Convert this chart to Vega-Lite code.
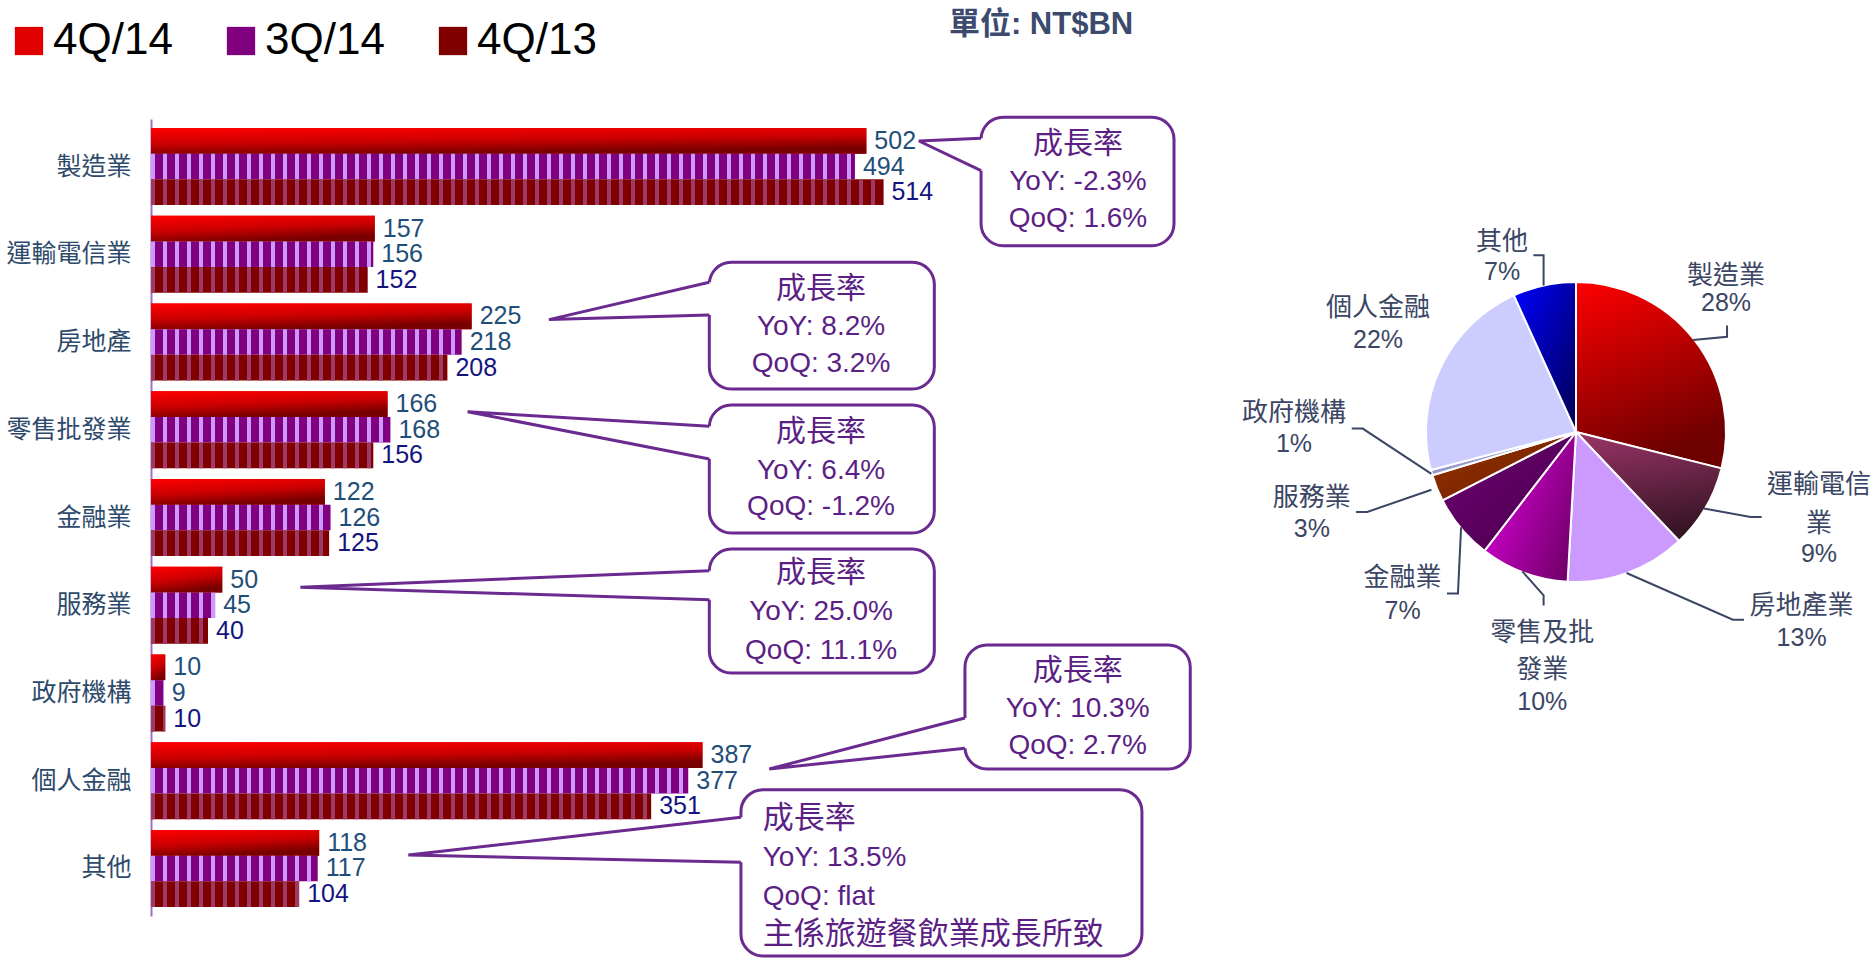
{
"$schema": "https://vega.github.io/schema/vega-lite/v6.json",
"padding": {"left": 5, "top": 9, "right": 0, "bottom": 0},
"background": "white",
"bounds": "flush",
"spacing": 270,
"config": {"view": {"stroke": null}, "font": "Liberation Sans"},
"datasets": {
"bars": [
{"cat":"製造業","series":"4Q/14","value":502},{"cat":"製造業","series":"3Q/14","value":494},{"cat":"製造業","series":"4Q/13","value":514},
{"cat":"運輸電信業","series":"4Q/14","value":157},{"cat":"運輸電信業","series":"3Q/14","value":156},{"cat":"運輸電信業","series":"4Q/13","value":152},
{"cat":"房地產","series":"4Q/14","value":225},{"cat":"房地產","series":"3Q/14","value":218},{"cat":"房地產","series":"4Q/13","value":208},
{"cat":"零售批發業","series":"4Q/14","value":166},{"cat":"零售批發業","series":"3Q/14","value":168},{"cat":"零售批發業","series":"4Q/13","value":156},
{"cat":"金融業","series":"4Q/14","value":122},{"cat":"金融業","series":"3Q/14","value":126},{"cat":"金融業","series":"4Q/13","value":125},
{"cat":"服務業","series":"4Q/14","value":50},{"cat":"服務業","series":"3Q/14","value":45},{"cat":"服務業","series":"4Q/13","value":40},
{"cat":"政府機構","series":"4Q/14","value":10},{"cat":"政府機構","series":"3Q/14","value":9},{"cat":"政府機構","series":"4Q/13","value":10},
{"cat":"個人金融","series":"4Q/14","value":387},{"cat":"個人金融","series":"3Q/14","value":377},{"cat":"個人金融","series":"4Q/13","value":351},
{"cat":"其他","series":"4Q/14","value":118},{"cat":"其他","series":"3Q/14","value":117},{"cat":"其他","series":"4Q/13","value":104}
],
"boxes": [
{"id":1,"x1":582.5,"x2":717.9,"y1":-0.561,"y2":0.902},
{"id":2,"x1":391.8,"x2":549.7,"y1":1.0914,"y2":2.5354},
{"id":3,"x1":391.8,"x2":549.7,"y1":2.7178,"y2":4.1766},
{"id":4,"x1":391.8,"x2":549.7,"y1":4.359,"y2":5.7723},
{"id":5,"x1":571.2,"x2":729.3,"y1":5.4532,"y2":6.8664},
{"id":6,"x1":414.0,"x2":695.4,"y1":7.1022,"y2":8.9977}
],
"gaps": [
{"id":1,"x":582.5,"y1":-0.3219,"y2":0.0474},
{"id":2,"x":391.8,"y1":1.3194,"y2":1.692},
{"id":3,"x":391.8,"y1":2.9606,"y2":3.3333},
{"id":4,"x":391.8,"y1":4.6063,"y2":4.9368},
{"id":5,"x":571.2,"y1":6.2852,"y2":6.6305},
{"id":6,"x":414.0,"y1":7.4169,"y2":7.9298}
],
"pointers": [
{"id":1,"s":0,"x":582.5,"y":-0.3219},{"id":1,"s":1,"x":538.9,"y":-0.2912},{"id":1,"s":2,"x":582.5,"y":0.0474},
{"id":2,"s":0,"x":391.8,"y":1.3194},{"id":2,"s":1,"x":279.3,"y":1.7446},{"id":2,"s":2,"x":391.8,"y":1.692},
{"id":3,"s":0,"x":391.8,"y":2.9606},{"id":3,"s":1,"x":222.2,"y":2.7942},{"id":3,"s":2,"x":391.8,"y":3.3333},
{"id":4,"s":0,"x":391.8,"y":4.6063},{"id":4,"s":1,"x":104.8,"y":4.7955},{"id":4,"s":2,"x":391.8,"y":4.9368},
{"id":5,"s":0,"x":571.2,"y":6.2852},{"id":5,"s":1,"x":433.9,"y":6.8664},{"id":5,"s":2,"x":571.2,"y":6.6305},
{"id":6,"s":0,"x":414.0,"y":7.4169},{"id":6,"s":1,"x":180.6,"y":7.8466},{"id":6,"s":2,"x":414.0,"y":7.9298}
],
"ctext": [
{"id":1,"x":650.5,"y":-0.2569,"t":"成長率"},{"id":1,"x":650.5,"y":0.1802,"t":"YoY: -2.3%"},{"id":1,"x":650.5,"y":0.5979,"t":"QoQ: 1.6%"},
{"id":2,"x":470.2,"y":1.3957,"t":"成長率"},{"id":2,"x":470.2,"y":1.833,"t":"YoY: 8.2%"},{"id":2,"x":470.2,"y":2.2505,"t":"QoQ: 3.2%"},
{"id":3,"x":470.2,"y":3.029,"t":"成長率"},{"id":3,"x":470.2,"y":3.4666,"t":"YoY: 6.4%"},{"id":3,"x":470.2,"y":3.8837,"t":"QoQ: -1.2%"},
{"id":4,"x":470.2,"y":4.6359,"t":"成長率"},{"id":4,"x":470.2,"y":5.0805,"t":"YoY: 25.0%"},{"id":4,"x":470.2,"y":5.5181,"t":"QoQ: 11.1%"},
{"id":5,"x":650.3,"y":5.7461,"t":"成長率"},{"id":5,"x":650.3,"y":6.1826,"t":"YoY: 10.3%"},{"id":5,"x":650.3,"y":6.6009,"t":"QoQ: 2.7%"},
{"id":6,"x":429.3,"y":7.4363,"t":"成長率"},{"id":6,"x":429.3,"y":7.8842,"t":"YoY: 13.5%"},{"id":6,"x":429.3,"y":8.3287,"t":"QoQ: flat"},{"id":6,"x":429.3,"y":8.7583,"t":"主係旅遊餐飲業成長所致"}
],
"unit": [{"x":624.6,"y":-1.613,"t":"單位: NT$BN"}],
"pie": [
{"cat":"製造業","value":502,"o":1},{"cat":"運輸電信業","value":157,"o":2},{"cat":"房地產業","value":225,"o":3},
{"cat":"零售及批發業","value":166,"o":4},{"cat":"金融業","value":122,"o":5},{"cat":"服務業","value":50,"o":6},
{"cat":"政府機構","value":10,"o":7},{"cat":"個人金融","value":387,"o":8},{"cat":"其他","value":118,"o":9}
],
"lead": [
{"id":"其他","s":0,"px":-0.216,"py":0.976},{"id":"其他","s":1,"px":-0.216,"py":1.179},{"id":"其他","s":2,"px":-0.284,"py":1.179},
{"id":"製造業","s":0,"px":0.78,"py":0.613},{"id":"製造業","s":1,"px":1.007,"py":0.635},{"id":"製造業","s":2,"px":1.007,"py":0.71},
{"id":"運輸","s":0,"px":0.853,"py":-0.51},{"id":"運輸","s":1,"px":1.164,"py":-0.567},{"id":"運輸","s":2,"px":1.238,"py":-0.567},
{"id":"房地產","s":0,"px":0.337,"py":-0.94},{"id":"房地產","s":1,"px":1.046,"py":-1.251},{"id":"房地產","s":2,"px":1.12,"py":-1.251},
{"id":"零售","s":0,"px":-0.358,"py":-0.929},{"id":"零售","s":1,"px":-0.216,"py":-1.089},{"id":"零售","s":2,"px":-0.216,"py":-1.157},
{"id":"金融","s":0,"px":-0.766,"py":-0.635},{"id":"金融","s":1,"px":-0.787,"py":-1.077},{"id":"金融","s":2,"px":-0.86,"py":-1.077},
{"id":"服務","s":0,"px":-0.964,"py":-0.385},{"id":"服務","s":1,"px":-1.392,"py":-0.533},{"id":"服務","s":2,"px":-1.466,"py":-0.533},
{"id":"政府","s":0,"px":-0.964,"py":-0.279},{"id":"政府","s":1,"px":-1.422,"py":0.023},{"id":"政府","s":2,"px":-1.495,"py":0.023}
],
"plab": [
{"px":-0.493,"py":1.27,"t":"其他"},{"px":-0.493,"py":1.067,"t":"7%"},
{"px":1.0,"py":1.043,"t":"製造業"},{"px":1.0,"py":0.862,"t":"28%"},
{"px":1.62,"py":-0.351,"t":"運輸電信"},{"px":1.62,"py":-0.612,"t":"業"},{"px":1.62,"py":-0.816,"t":"9%"},
{"px":1.504,"py":-1.157,"t":"房地產業"},{"px":1.504,"py":-1.372,"t":"13%"},
{"px":-0.225,"py":-1.338,"t":"零售及批"},{"px":-0.225,"py":-1.587,"t":"發業"},{"px":-0.225,"py":-1.803,"t":"10%"},
{"px":-1.156,"py":-0.975,"t":"金融業"},{"px":-1.156,"py":-1.191,"t":"7%"},
{"px":-1.761,"py":-0.442,"t":"服務業"},{"px":-1.761,"py":-0.647,"t":"3%"},
{"px":-1.88,"py":0.125,"t":"政府機構"},{"px":-1.88,"py":-0.079,"t":"1%"},
{"px":-1.32,"py":0.828,"t":"個人金融"},{"px":-1.32,"py":0.613,"t":"22%"}
]
},
"hconcat": [
{
"width": 855, "height": 797,
"layer": [
{
"data": {"name": "bars"},
"encoding": {
"y": {"field": "cat", "type": "nominal",
"scale": {"domain": ["製造業","運輸電信業","房地產","零售批發業","金融業","服務業","政府機構","個人金融","其他"], "paddingInner": 0.1225, "paddingOuter": 0.103},
"axis": {"title": null, "ticks": false, "domainColor": "#A070C8", "domainWidth": 2, "labelFontSize": 25, "labelFont": "Noto Sans CJK TC", "labelColor": "#2E4A6B", "labelPadding": 20}},
"yOffset": {"field": "series", "type": "nominal", "scale": {"domain": ["4Q/14","3Q/14","4Q/13"], "paddingInner": 0, "paddingOuter": 0}},
"x": {"field": "value", "type": "quantitative", "scale": {"domain": [0, 600], "nice": false}, "axis": null}
},
"layer": [
{"mark": {"type": "bar"},
"encoding": {"color": {"field": "series", "type": "nominal",
"scale": {"domain": ["4Q/14","3Q/14","4Q/13"], "range": ["#E00000","#800080","#800000"]},
"legend": {"orient": "none", "legendX": -144, "legendY": -100, "direction": "horizontal", "title": null, "symbolType": "square", "symbolSize": 800, "symbolStrokeWidth": 0, "labelFontSize": 44, "labelFont": "Liberation Sans", "labelColor": "black", "labelOffset": 2, "columnPadding": 46, "padding": 0}}}},
{"transform": [{"filter": "datum.series === '4Q/14'"}],
"mark": {"type": "bar", "color": {"gradient": "linear", "x1": 0, "y1": 0, "x2": 0.35, "y2": 1, "stops": [{"offset": 0, "color": "#FF0000"}, {"offset": 0.55, "color": "#CC0000"}, {"offset": 1, "color": "#780000"}]}}},
{"transform": [{"filter": "datum.series === '3Q/14'"}],
"mark": {"type": "rule", "strokeWidth": 25.6, "strokeDash": [4, 8], "color": "#CC99FF"},
"encoding": {"x": {"datum": 0}, "x2": {"field": "value"}}},
{"transform": [{"filter": "datum.series === '4Q/13'"}],
"mark": {"type": "rule", "strokeWidth": 25.6, "strokeDash": [4, 8], "color": "#9E3A66"},
"encoding": {"x": {"datum": 0}, "x2": {"field": "value"}}},
{"mark": {"type": "text", "align": "left", "baseline": "middle", "dx": 8, "fontSize": 25, "font": "Liberation Sans"},
"encoding": {"text": {"field": "value", "type": "quantitative"},
"color": {"condition": {"test": "datum.series === '4Q/13'", "value": "#141480"}, "value": "#1F4E79"}}}
]
},
{
"layer": [
{"data": {"name": "boxes"},
"mark": {"type": "rect", "fill": "white", "stroke": "#6A2A90", "strokeWidth": 3, "cornerRadius": 22},
"encoding": {
"x": {"field": "x1", "type": "quantitative", "scale": {"domain": [0, 600], "nice": false}, "axis": null},
"x2": {"field": "x2"},
"y": {"field": "y1", "type": "quantitative", "scale": {"domain": [-0.5418, 8.5418], "nice": false, "zero": false, "reverse": true}, "axis": null},
"y2": {"field": "y2"}}},
{"data": {"name": "gaps"},
"mark": {"type": "rule", "color": "white", "strokeWidth": 7},
"encoding": {"x": {"field": "x", "type": "quantitative"}, "y": {"field": "y1", "type": "quantitative"}, "y2": {"field": "y2"}}},
{"data": {"name": "pointers"},
"mark": {"type": "line", "color": "#6A2A90", "strokeWidth": 3, "strokeJoin": "miter"},
"encoding": {"x": {"field": "x", "type": "quantitative"}, "y": {"field": "y", "type": "quantitative"}, "detail": {"field": "id"}, "order": {"field": "s"}}},
{"data": {"name": "ctext"},
"transform": [{"filter": "datum.id !== 6"}],
"mark": {"type": "text", "align": "center", "baseline": "middle", "font": "'Liberation Sans', 'Noto Sans CJK TC', sans-serif", "color": "#5C1F85"},
"encoding": {"x": {"field": "x", "type": "quantitative"}, "y": {"field": "y", "type": "quantitative"}, "text": {"field": "t"},
"size": {"condition": {"test": "indexof(datum.t, ':') >= 0", "value": 28}, "value": 30}}},
{"data": {"name": "ctext"},
"transform": [{"filter": "datum.id === 6"}],
"mark": {"type": "text", "align": "left", "baseline": "middle", "font": "'Liberation Sans', 'Noto Sans CJK TC', sans-serif", "color": "#5C1F85"},
"encoding": {"x": {"field": "x", "type": "quantitative"}, "y": {"field": "y", "type": "quantitative"}, "text": {"field": "t"},
"size": {"condition": {"test": "indexof(datum.t, ':') >= 0", "value": 28}, "value": 31}}},
{"data": {"name": "unit"},
"mark": {"type": "text", "align": "center", "baseline": "middle", "fontSize": 31, "fontWeight": "bold", "font": "'Liberation Sans', 'Noto Sans CJK TC', sans-serif", "color": "#3C4A6E"},
"encoding": {"x": {"field": "x", "type": "quantitative"}, "y": {"field": "y", "type": "quantitative"}, "text": {"field": "t"}}}
]
}
],
"resolve": {"scale": {"y": "independent"}, "axis": {"y": "independent"}}
},
{
"width": 600, "height": 626,
"layer": [
{"data": {"name": "pie"},
"mark": {"type": "arc", "outerRadius": 150, "stroke": "white", "strokeWidth": 2},
"encoding": {
"theta": {"field": "value", "type": "quantitative", "stack": true},
"order": {"field": "o", "type": "quantitative"},
"color": {"condition": [
{"test": "datum.cat === '製造業'", "value": {"gradient": "linear", "x1": 0, "y1": 0, "x2": 0.3, "y2": 1, "stops": [{"offset": 0, "color": "#FF0000"}, {"offset": 1, "color": "#6E0000"}]}},
{"test": "datum.cat === '運輸電信業'", "value": {"gradient": "linear", "x1": 0, "y1": 0, "x2": 0.2, "y2": 1, "stops": [{"offset": 0, "color": "#9C3568"}, {"offset": 1, "color": "#361424"}]}},
{"test": "datum.cat === '房地產業'", "value": "#CC99FF"},
{"test": "datum.cat === '零售及批發業'", "value": {"gradient": "linear", "x1": 0, "y1": 0.2, "x2": 1, "y2": 0.8, "stops": [{"offset": 0, "color": "#DD00DD"}, {"offset": 1, "color": "#700068"}]}},
{"test": "datum.cat === '金融業'", "value": {"gradient": "linear", "x1": 0, "y1": 0, "x2": 1, "y2": 1, "stops": [{"offset": 0, "color": "#6E0072"}, {"offset": 1, "color": "#48004C"}]}},
{"test": "datum.cat === '服務業'", "value": {"gradient": "linear", "x1": 0, "y1": 0, "x2": 1, "y2": 1, "stops": [{"offset": 0, "color": "#993300"}, {"offset": 1, "color": "#6A1E00"}]}},
{"test": "datum.cat === '政府機構'", "value": "#9999CC"},
{"test": "datum.cat === '其他'", "value": {"gradient": "linear", "x1": 0, "y1": 0, "x2": 1, "y2": 1, "stops": [{"offset": 0, "color": "#0000FF"}, {"offset": 1, "color": "#000050"}]}}
], "value": "#CCCCFF"}
}},
{"data": {"name": "lead"},
"mark": {"type": "line", "color": "#3B4664", "strokeWidth": 2},
"encoding": {
"x": {"field": "px", "type": "quantitative", "scale": {"domain": [-2, 2], "nice": false, "zero": false}, "axis": null},
"y": {"field": "py", "type": "quantitative", "scale": {"domain": [-2.0867, 2.0867], "nice": false, "zero": false}, "axis": null},
"detail": {"field": "id"}, "order": {"field": "s"}}},
{"data": {"name": "plab"},
"mark": {"type": "text", "align": "center", "baseline": "middle", "font": "'Liberation Sans', 'Noto Sans CJK TC', sans-serif", "color": "#3B4664"},
"encoding": {
"x": {"field": "px", "type": "quantitative"},
"y": {"field": "py", "type": "quantitative"},
"text": {"field": "t"},
"size": {"condition": {"test": "indexof(datum.t, '%') >= 0", "value": 25}, "value": 26}}}
]
}
]
}
